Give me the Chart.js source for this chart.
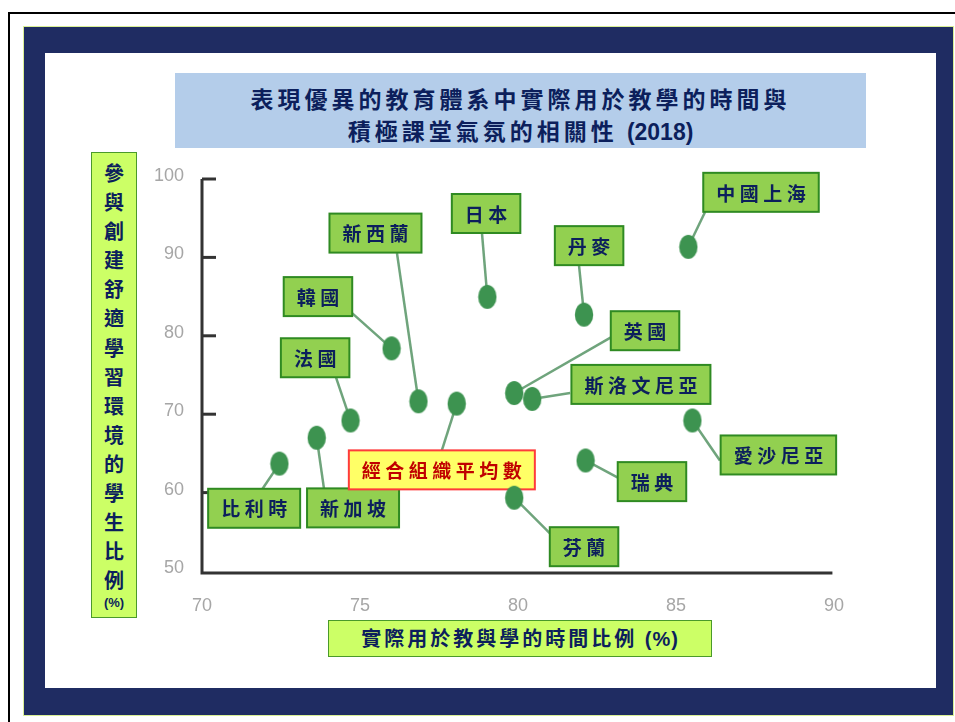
<!DOCTYPE html>
<html><head><meta charset="utf-8">
<script src="https://cdn.jsdelivr.net/npm/chart.js@4/dist/chart.umd.min.js"></script>
<style>
html,body{margin:0;padding:0;background:#fff;width:955px;height:722px;overflow:hidden;}
#wrap{position:relative;width:955px;height:722px;overflow:hidden;}
.blk{position:absolute;box-sizing:border-box;}
#outline{left:8px;top:12px;width:947px;height:710px;border-left:2px solid #000;border-top:2px solid #000;}
#navy{left:23px;top:26px;width:931px;height:690px;background:#1f2c62;border:1px solid #d9ef95;}
#inner{left:45px;top:53px;width:891px;height:635px;background:#fff;}
#title{left:175px;top:73px;width:691px;height:75px;background:#b4cdea;color:#0c1f5c;font-family:'Noto Sans CJK TC';font-weight:700;font-size:23px;text-align:center;line-height:32px;padding-top:9px;letter-spacing:4px;}
#title .num{font-family:'Liberation Sans',Arial;letter-spacing:0;font-size:23px;}
#ylab{left:91px;top:152px;width:46px;height:466px;background:#ccff66;border:1.5px solid #4a9a2a;color:#0c1f5c;font-family:'Noto Sans CJK TC';font-weight:700;font-size:20px;text-align:center;padding-top:5px;}
#ylab div{line-height:29.1px;height:29.1px;}
#ylab .pct{font-size:13px;line-height:18px;height:18px;font-family:'Liberation Sans',Arial;}
#xlab{left:328px;top:620px;width:384px;height:37px;background:#ccff66;border:1.5px solid #4a9a2a;color:#0c1f5c;font-family:'Noto Sans CJK TC';font-weight:700;font-size:20px;text-align:center;line-height:34px;letter-spacing:3px;}
#xlab .pct{font-family:'Liberation Sans',Arial;letter-spacing:1px;}
#c{position:absolute;left:0;top:0;}
</style></head>
<body>
<div id="wrap">
  <div class="blk" id="outline"></div>
  <div class="blk" id="navy"></div>
  <div class="blk" id="inner"></div>
  <div class="blk" id="title">表現優異的教育體系中實際用於教學的時間與<br>積極課堂氣氛的相關性 <span class="num">(2018)</span></div>
  <div class="blk" id="ylab"><div>參</div><div>與</div><div>創</div><div>建</div><div>舒</div><div>適</div><div>學</div><div>習</div><div>環</div><div>境</div><div>的</div><div>學</div><div>生</div><div>比</div><div>例</div><div class="pct">(%)</div></div>
  <div class="blk" id="xlab">實際用於教與學的時間比例 <span class="pct">(%)</span></div>
  <canvas id="c" width="955" height="722"></canvas>
</div>
<script>
// ---- data ----
const countries = ['比利時','新加坡','法國','韓國','新西蘭','經合組織平均數','日本','芬蘭','英國','斯洛文尼亞','丹麥','瑞典','愛沙尼亞','中國上海'];
const teachingTime = [72.45,73.63,74.70,76.00,76.85,78.06,79.03,79.88,79.88,80.45,82.09,82.14,85.52,85.39];
const positiveClimate = [63.7,67.0,69.2,78.4,71.65,71.35,84.97,59.35,72.7,71.95,82.7,64.1,69.2,91.35];
const xTicks = [70,75,80,85,90];
const yTicks = [50,60,70,80,90,100];
// label box centres (data units) and leader attach points (data units)
const labelX = [71.65,74.78,73.58,73.67,75.49,77.59,78.99,82.09,84.02,83.89,82.25,84.24,88.24,87.69];
const labelY = [58.0,58.05,77.2,85.0,93.1,62.9,95.6,53.1,80.65,73.8,91.5,61.4,64.8,98.3];
const anchorX = [71.9,73.86,74.24,74.75,76.17,77.59,78.86,81.01,82.94,81.65,81.93,83.16,86.39,85.92];
const anchorY = [60.4,60.5,74.7,82.9,90.55,65.4,93.1,54.8,79.8,72.7,89.0,61.9,64.1,95.8];
const highlight = '經合組織平均數';

// ---- point style: slightly tall ellipse ----
const dot = document.createElement('canvas');
dot.width = 20; dot.height = 26;
(function(){const g = dot.getContext('2d'); g.fillStyle = '#3d9350'; g.beginPath(); g.ellipse(10,13,9.2,12,0,0,Math.PI*2); g.fill();})();

const labelPlugin = {
  id: 'labels',
  beforeDatasetsDraw(chart) {
    const {ctx, scales:{x, y}} = chart;
    ctx.save();
    // axes
    ctx.strokeStyle = '#333'; ctx.lineWidth = 3;
    const l = x.getPixelForValue(70), r = x.getPixelForValue(89.95);
    const t = y.getPixelForValue(100), b = y.getPixelForValue(50);
    ctx.beginPath(); ctx.moveTo(l, t); ctx.lineTo(l, b + 2); ctx.lineTo(r, b + 2); ctx.stroke();
    yTicks.forEach(v => { if (v === 50) return; const py = y.getPixelForValue(v); ctx.beginPath(); ctx.moveTo(l, py); ctx.lineTo(l + 14, py); ctx.stroke(); });
    // leader lines
    ctx.strokeStyle = '#6fa47c'; ctx.lineWidth = 2.5;
    countries.forEach((c, i) => {
      ctx.beginPath();
      ctx.moveTo(x.getPixelForValue(teachingTime[i]), y.getPixelForValue(positiveClimate[i]));
      ctx.lineTo(x.getPixelForValue(anchorX[i]), y.getPixelForValue(anchorY[i]));
      ctx.stroke();
    });
    // label boxes
    ctx.font = "700 19px 'Noto Sans CJK TC'";
    ctx.textBaseline = 'middle';
    const sp = 4.5;
    countries.forEach((c, i) => {
      const chars = Array.from(c);
      const widths = chars.map(ch => ctx.measureText(ch).width);
      const tw = widths.reduce((a, w) => a + w, 0) + sp * (chars.length - 1);
      const w = tw + 26, h = 39;
      const cx = x.getPixelForValue(labelX[i]), cy = y.getPixelForValue(labelY[i]);
      const hl = c === highlight;
      ctx.fillStyle = hl ? '#ffff66' : '#92d050';
      ctx.fillRect(cx - w / 2, cy - h / 2, w, h);
      ctx.strokeStyle = hl ? '#ff3b3b' : '#2f8a22';
      ctx.lineWidth = 2;
      ctx.strokeRect(cx - w / 2, cy - h / 2, w, h);
      ctx.fillStyle = hl ? '#c00000' : '#0c1f5c';
      ctx.textAlign = 'left';
      let px = cx - tw / 2;
      chars.forEach((ch, k) => { ctx.fillText(ch, px, cy + 1); px += widths[k] + sp; });
    });
    ctx.restore();
  }
};

new Chart(document.getElementById('c'), {
  type: 'scatter',
  data: {
    datasets: [{
      data: teachingTime.map((v, i) => ({x: v, y: positiveClimate[i]})),
      pointStyle: dot,
      pointRadius: 10,
      pointHoverRadius: 10
    }]
  },
  options: {
    responsive: false,
    animation: false,
    events: [],
    layout: { padding: { left: 0, top: 179, right: 121, bottom: 111 } },
    plugins: { legend: { display: false }, tooltip: { enabled: false } },
    scales: {
      x: {
        type: 'linear', min: 70, max: 90,
        afterBuildTicks: s => { s.ticks = xTicks.map(v => ({value: v})); },
        afterFit: s => { s.height = 40; },
        grid: { display: false, drawTicks: false },
        border: { display: false },
        ticks: { color: '#a6a6a6', padding: 24, font: { family: "'Liberation Sans Narrow','Liberation Sans',Arial", size: 18 }, maxRotation: 0 }
      },
      y: {
        type: 'linear', min: 50, max: 100,
        afterBuildTicks: s => { s.ticks = yTicks.map(v => ({value: v})); },
        afterFit: s => { s.width = 202; },
        grid: { display: false, drawTicks: false },
        border: { display: false },
        ticks: { color: '#a6a6a6', padding: 18, labelOffset: -3, font: { family: "'Liberation Sans Narrow','Liberation Sans',Arial", size: 18 } }
      }
    }
  },
  plugins: [labelPlugin]
});
</script>
</body></html>
